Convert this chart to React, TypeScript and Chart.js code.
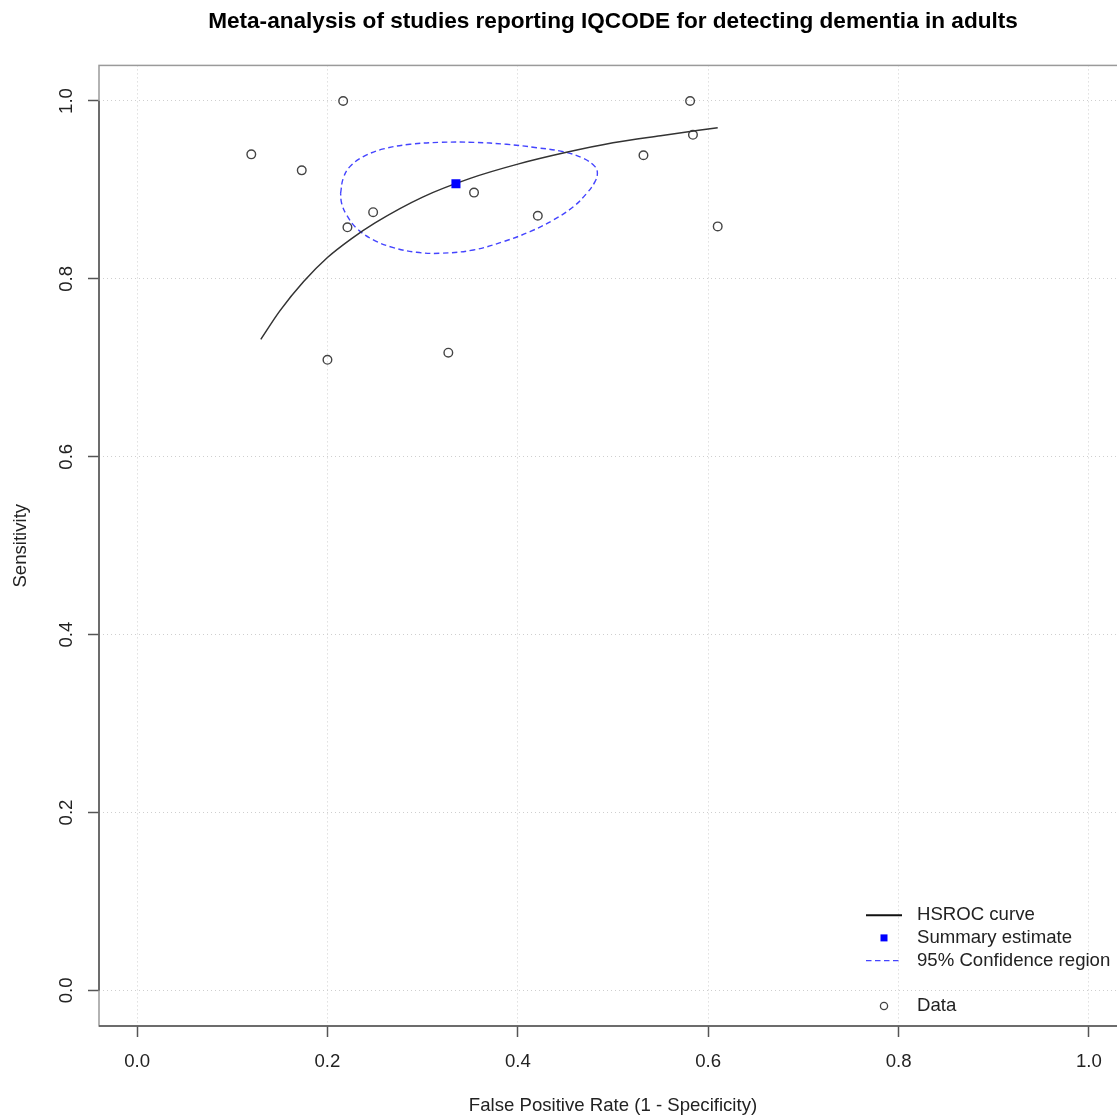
import { useEffect, useRef } from "react";
import { Chart, registerables } from "chart.js";

Chart.register(...registerables);

const fontFamily = "'Liberation Sans', Arial, Helvetica, sans-serif";

const titleText = "Meta-analysis of studies reporting IQCODE for detecting dementia in adults";
const xAxisTitle = "False Positive Rate (1 - Specificity)";
const yAxisTitle = "Sensitivity";

const tickValues = [0, 0.2, 0.4, 0.6, 0.8, 1.0];
const axisMin = -0.04;
const axisMax = 1.04;

// Individual studies (false positive rate, sensitivity)
const studyFpr = [0.120, 0.173, 0.2165, 0.221, 0.248, 0.200, 0.327, 0.354, 0.421, 0.532, 0.581, 0.584, 0.610];
const studySens = [0.940, 0.922, 1.000, 0.858, 0.875, 0.709, 0.717, 0.897, 0.871, 0.939, 1.000, 0.962, 0.859];

// Summary estimate
const summaryFpr = [0.335];
const summarySens = [0.907];

// HSROC curve
const curveFpr = [0.13, 0.15, 0.175, 0.2, 0.225, 0.25, 0.3, 0.35, 0.4, 0.45, 0.5, 0.55, 0.61];
const curveSens = [0.732, 0.764, 0.797, 0.824, 0.845, 0.863, 0.892, 0.913, 0.929, 0.942, 0.953, 0.961, 0.970];

// 95% confidence region outline
const regionFpr = [
  0.2138, 0.2166, 0.2236, 0.2377, 0.2587, 0.2867, 0.3182, 0.3533, 0.3883, 0.4198, 0.4478, 0.4689, 0.4811,
  0.4836, 0.4811, 0.4724, 0.4584, 0.4373, 0.4128, 0.3848, 0.3533, 0.3182, 0.2937, 0.2692, 0.2482, 0.2307,
  0.2201, 0.2149, 0.2138,
];
const regionSens = [
  0.8962, 0.9131, 0.9262, 0.9374, 0.9461, 0.9513, 0.9535, 0.9535, 0.9513, 0.9475, 0.9430, 0.9355, 0.9262,
  0.9187, 0.9093, 0.8962, 0.8812, 0.8662, 0.8531, 0.8419, 0.8325, 0.8288, 0.8299, 0.8352, 0.8438, 0.8569,
  0.8719, 0.8850, 0.8962,
];

const legendLabels = ["HSROC curve", "Summary estimate", "95% Confidence region", "", "Data"];
const legendKinds = ["line", "square", "dashed", "none", "circle"];

const toPoints = (xs: number[], ys: number[]) => xs.map((x, i) => ({ x, y: ys[i] }));

const boxPlugin = {
  id: "rBox",
  afterDraw(chart: any) {
    const { ctx, chartArea: a, scales } = chart;
    ctx.save();
    ctx.setLineDash([]);
    ctx.strokeStyle = "#9a9a9a";
    ctx.lineWidth = 1.5;
    ctx.strokeRect(a.left, a.top, a.right - a.left, a.bottom - a.top);
    ctx.strokeStyle = "#555";
    ctx.beginPath();
    ctx.moveTo(a.left, scales.y.getPixelForValue(tickValues[0]));
    ctx.lineTo(a.left, scales.y.getPixelForValue(tickValues[tickValues.length - 1]));
    ctx.moveTo(a.left, a.bottom);
    ctx.lineTo(a.right, a.bottom);
    ctx.stroke();
    ctx.restore();
  },
};

const legendPlugin = {
  id: "rLegend",
  afterDraw(chart: any) {
    const { ctx, chartArea: a } = chart;
    const symX = a.right - 243;
    const textX = a.right - 210;
    const rowH = 22.7;
    const baseY = a.bottom - 20;
    ctx.save();
    ctx.font = `18.6px ${fontFamily}`;
    ctx.textBaseline = "middle";
    ctx.textAlign = "left";
    legendLabels.forEach((label, i) => {
      const y = baseY - (legendLabels.length - 1 - i) * rowH;
      const kind = legendKinds[i];
      if (kind === "line" || kind === "dashed") {
        ctx.beginPath();
        ctx.setLineDash(kind === "dashed" ? [5.5, 3.5] : []);
        ctx.strokeStyle = kind === "dashed" ? "#4444ff" : "#111";
        ctx.lineWidth = kind === "dashed" ? 1.4 : 2;
        ctx.moveTo(symX - 18, y);
        ctx.lineTo(symX + 18, y);
        ctx.stroke();
        ctx.setLineDash([]);
      } else if (kind === "square") {
        ctx.fillStyle = "#0000ff";
        ctx.fillRect(symX - 3.5, y - 3.5, 7, 7);
      } else if (kind === "circle") {
        ctx.beginPath();
        ctx.strokeStyle = "#444";
        ctx.lineWidth = 1.3;
        ctx.arc(symX, y, 3.6, 0, Math.PI * 2);
        ctx.stroke();
      }
      ctx.fillStyle = "#222";
      ctx.fillText(label, textX, y);
    });
    ctx.restore();
  },
};

export default function App() {
  const ref = useRef<HTMLCanvasElement>(null);

  useEffect(() => {
    const canvas = ref.current;
    if (!canvas) return;
    Chart.defaults.font.family = fontFamily;
    const tickFont = { family: fontFamily, size: 18.6 };
    const setTicks = (s: any) => {
      s.ticks = tickValues.map((v) => ({ value: v }));
    };
    const zeroPad = (s: any) => {
      s.paddingLeft = 0;
      s.paddingRight = 0;
      s.paddingTop = 0;
      s.paddingBottom = 0;
    };
    const chart = new Chart(canvas, {
      type: "scatter",
      data: {
        datasets: [
          {
            label: "Summary estimate",
            data: toPoints(summaryFpr, summarySens),
            pointStyle: "rect",
            pointRadius: 6.4,
            pointBackgroundColor: "#0000ff",
            pointBorderWidth: 0,
            showLine: false,
          },
          {
            label: "HSROC curve",
            data: toPoints(curveFpr, curveSens),
            showLine: true,
            borderColor: "#333",
            borderWidth: 1.5,
            pointRadius: 0,
            cubicInterpolationMode: "monotone",
          },
          {
            label: "95% Confidence region",
            data: toPoints(regionFpr, regionSens),
            showLine: true,
            borderColor: "#4444ff",
            borderWidth: 1.4,
            borderDash: [5.5, 3.5],
            pointRadius: 0,
            tension: 0.4,
          },
          {
            label: "Data",
            data: toPoints(studyFpr, studySens),
            showLine: false,
            pointStyle: "circle",
            pointRadius: 4.3,
            pointBackgroundColor: "rgba(0,0,0,0)",
            pointBorderColor: "#444",
            pointBorderWidth: 1.4,
          },
        ],
      },
      options: {
        animation: false,
        responsive: false,
        devicePixelRatio: 1,
        layout: { padding: 0, autoPadding: false },
        plugins: {
          legend: { display: false },
          tooltip: { enabled: false },
          title: {
            display: true,
            text: titleText,
            fullSize: false,
            color: "#000",
            font: { family: fontFamily, size: 22.6, weight: "bold" },
            padding: { top: 8.6, bottom: 29.7 },
          },
        },
        scales: {
          x: {
            type: "linear",
            min: axisMin,
            max: axisMax,
            afterBuildTicks: setTicks,
            afterFit: (s: any) => {
              s.height = 91;
              zeroPad(s);
            },
            ticks: {
              autoSkip: false,
              padding: 13.5,
              color: "#222",
              font: tickFont,
              maxRotation: 0,
              minRotation: 0,
              callback: (v: any) => Number(v).toFixed(1),
            },
            grid: {
              color: "#cfcfcf",
              lineWidth: 1,
              tickLength: 11,
              tickColor: "#555",
              tickWidth: 1.5,
            },
            border: { display: false, dash: [1, 3] },
            title: {
              display: true,
              text: xAxisTitle,
              color: "#222",
              font: tickFont,
              padding: { top: 0, bottom: 0.4 },
            },
          },
          y: {
            type: "linear",
            min: axisMin,
            max: axisMax,
            afterBuildTicks: setTicks,
            afterFit: (s: any) => {
              s.width = 99;
              zeroPad(s);
            },
            ticks: {
              autoSkip: false,
              padding: 8,
              color: "#222",
              font: tickFont,
              minRotation: 90,
              maxRotation: 90,
              crossAlign: "center",
              callback: (v: any) => Number(v).toFixed(1),
            },
            grid: {
              color: "#cfcfcf",
              lineWidth: 1,
              tickLength: 11,
              tickColor: "#555",
              tickWidth: 1.5,
            },
            border: { display: false, dash: [1, 3] },
            title: {
              display: true,
              text: yAxisTitle,
              color: "#222",
              font: tickFont,
              padding: { top: 9.8, bottom: 0 },
            },
          },
        },
      },
      plugins: [boxPlugin, legendPlugin],
    } as any);
    return () => chart.destroy();
  }, []);

  return (
    <div
      style={{
        position: "fixed",
        left: 0,
        top: 0,
        width: 1117,
        height: 1117,
        overflow: "hidden",
        background: "#fff",
      }}
    >
      <canvas ref={ref} width={1127} height={1117} style={{ display: "block", width: 1127, height: 1117 }} />
    </div>
  );
}
